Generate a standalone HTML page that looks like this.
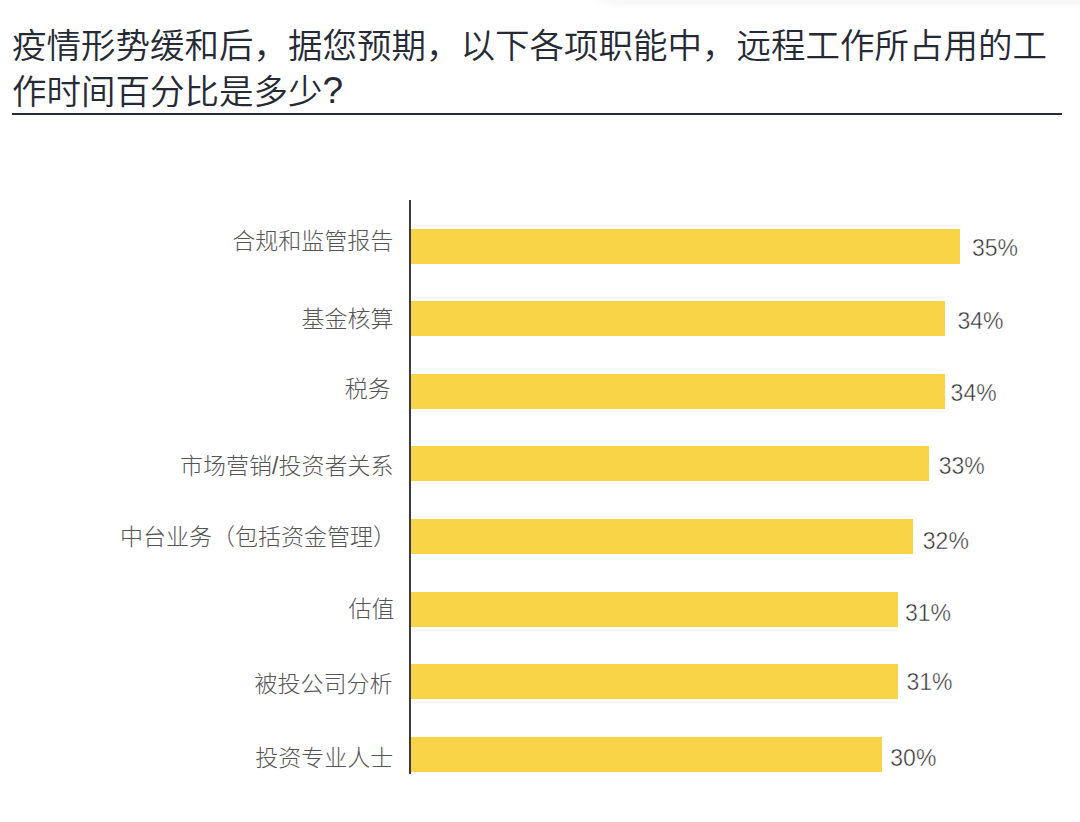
<!DOCTYPE html>
<html lang="zh-CN">
<head>
<meta charset="utf-8">
<title>远程工作占用时间百分比</title>
<style>
html,body{margin:0;padding:0;}
body{width:1080px;height:822px;overflow:hidden;background:#fff;position:relative;
  font-family:"Liberation Sans","Noto Sans CJK SC",sans-serif;}
.title{position:absolute;left:12px;top:24px;font-size:34.5px;line-height:45.5px;color:#262a35;
  font-family:"Liberation Sans","Noto Sans CJK SC",sans-serif;white-space:nowrap;}
.q{font-size:37px;line-height:0;position:relative;top:-1px;}
.title{font-weight:350;}
.fade{position:absolute;left:590px;top:0;width:490px;height:9px;
  background:linear-gradient(to bottom,#f7f7f7 0,#f8f8f8 4px,#fcfcfc 5px,#fdfdfd 8px,#fff 9px);
  -webkit-mask-image:linear-gradient(to right,transparent 0,#000 30px);}
.rule{position:absolute;left:12px;top:112.6px;width:1050px;height:2.2px;background:#262a35;}
.axis{position:absolute;left:409px;top:200px;width:2px;height:574px;background:#3a3b42;}
.bar{position:absolute;left:411px;height:35px;background:#f8d446;}
.lab{position:absolute;font-size:23px;line-height:30px;color:#555;font-weight:300;
  font-family:"Liberation Sans","Noto Sans CJK SC",sans-serif;white-space:nowrap;}
.pct{position:absolute;font-size:23px;line-height:30px;color:#2e2e2e;
  font-family:"Liberation Sans",sans-serif;white-space:nowrap;-webkit-text-stroke:0.45px #fff;}
</style>
</head>
<body>
<div class="title">疫情形势缓和后，据您预期，以下各项职能中，远程工作所占用的工<br>作时间百分比是多少<span class="q">?</span></div>
<div class="fade"></div>
<div class="rule"></div>
<div class="axis"></div>

<div class="lab" style="top:225.9px;right:686.8px">合规和监管报告</div>
<div class="bar" style="top:229px;width:549px"></div>
<div class="pct" style="top:232.9px;left:972.0px">35%</div>
<div class="lab" style="top:303.8px;right:686.4px">基金核算</div>
<div class="bar" style="top:301px;width:534px"></div>
<div class="pct" style="top:305.5px;left:957.4px">34%</div>
<div class="lab" style="top:373.8px;right:689.2px">税务</div>
<div class="bar" style="top:374px;width:534px"></div>
<div class="pct" style="top:377.9px;left:950.6px">34%</div>
<div class="lab" style="top:450.7px;right:686.5px">市场营销/投资者关系</div>
<div class="bar" style="top:446px;width:518px"></div>
<div class="pct" style="top:450.7px;left:938.7px">33%</div>
<div class="lab" style="top:522.4px;right:684.0px">中台业务（包括资金管理）</div>
<div class="bar" style="top:519px;width:502px"></div>
<div class="pct" style="top:525.9px;left:922.8px">32%</div>
<div class="lab" style="top:594.4px;right:685.4px">估值</div>
<div class="bar" style="top:592px;width:487px"></div>
<div class="pct" style="top:598.3px;left:904.9px">31%</div>
<div class="lab" style="top:669.3px;right:687.4px">被投公司分析</div>
<div class="bar" style="top:664px;width:487px"></div>
<div class="pct" style="top:666.6px;left:906.5px">31%</div>
<div class="lab" style="top:742.8px;right:686.7px">投资专业人士</div>
<div class="bar" style="top:737px;width:471px"></div>
<div class="pct" style="top:743.4px;left:890.3px">30%</div>
</body>
</html>
